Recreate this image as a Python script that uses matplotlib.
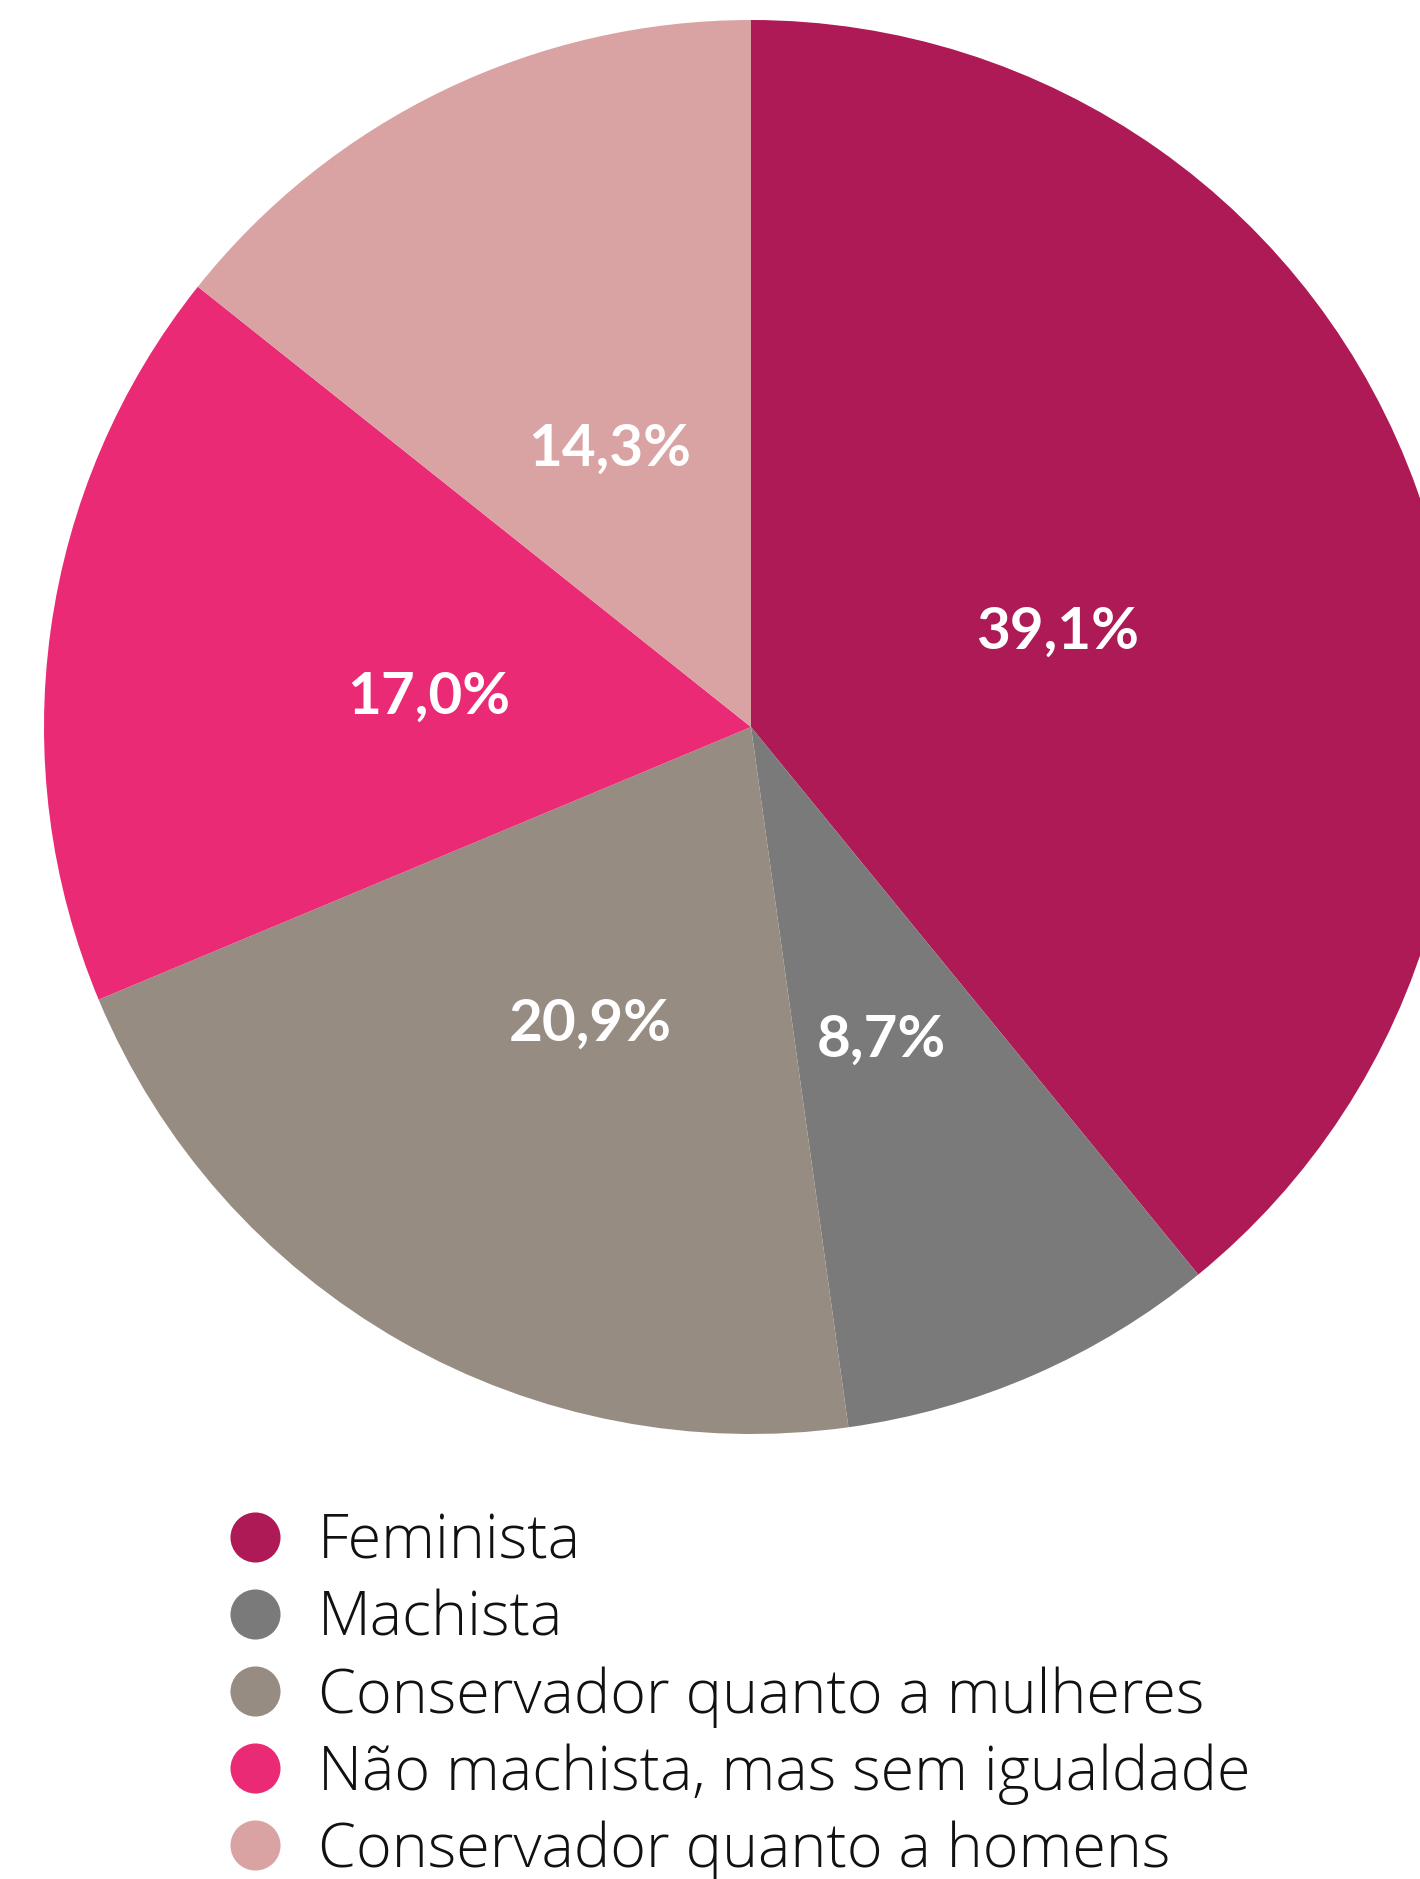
import matplotlib
matplotlib.use("Agg")
import matplotlib.pyplot as plt

# Survey shares, clockwise from 12 o'clock
categories = [
    "Feminista",
    "Machista",
    "Conservador quanto a mulheres",
    "Não machista, mas sem igualdade",
    "Conservador quanto a homens",
]
shares = [39.1, 8.7, 20.9, 17.0, 14.3]
colors = ["#AD1A55", "#7A7A7A", "#968C82", "#EB2A75", "#D9A3A3"]

W, H = 1420, 1879
cx, cy, r = 751, 727, 707   # pie centre/radius in pixels (y from top)

fig = plt.figure(figsize=(W / 100, H / 100), dpi=100)

ax = fig.add_axes([(cx - r) / W, (H - cy - r) / H, 2 * r / W, 2 * r / H])
wedges, _, autotexts = ax.pie(
    shares,
    colors=colors,
    startangle=90,
    counterclock=False,
    radius=1.0,
    autopct=lambda p: f"{p:.1f}%".replace(".", ","),
    pctdistance=0.46,
    wedgeprops=dict(linewidth=0),
)
for t in autotexts:
    x, y = t.get_position()
    t.set_position((x, y - 0.014))
    t.set_color("white")
    t.set_fontsize(42)
    t.set_fontfamily(["Lato", "DejaVu Sans"])
    t.set_fontweight("bold")
    t.set_va("center_baseline")
ax.set_xlim(-1, 1)
ax.set_ylim(-1, 1)
ax.set_aspect("equal")
ax.axis("off")

# legend drawn in pixel coordinates below the pie
lax = fig.add_axes([0, 0, 1, 1])
lax.set_xlim(0, W)
lax.set_ylim(H, 0)
lax.axis("off")
lax.set_zorder(-1)
row_y = [1537, 1614, 1691, 1768, 1845]
for y, lab, c in zip(row_y, categories, colors):
    lax.scatter([255], [y], s=1300, color=c, linewidths=0)
    lax.text(318, y + 6, lab, fontsize=44, va="center", ha="left",
             family=["Open Sans", "DejaVu Sans"], fontweight="light", color="#111111")

fig.savefig("out.png", dpi=100)
